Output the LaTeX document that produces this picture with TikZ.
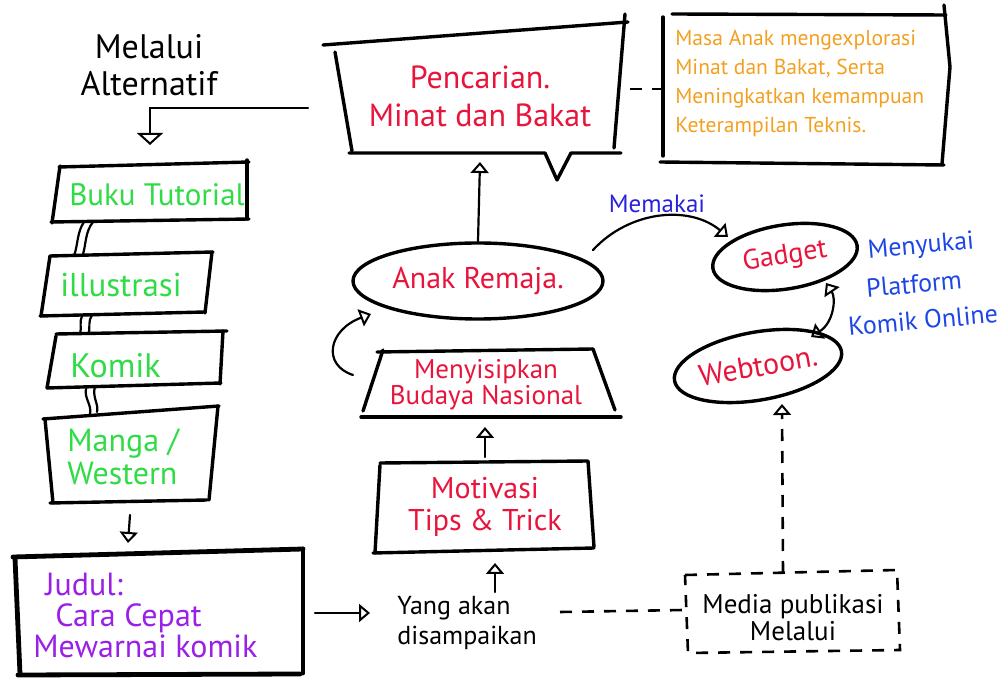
\documentclass[tikz,border=0pt]{standalone}
\usepackage{fontspec}
\setmainfont{PT Sans}
\usetikzlibrary{arrows.meta,shapes.geometric}
\definecolor{hgreen}{HTML}{30DC46}
\definecolor{hred}{HTML}{E8143C}
\definecolor{horange}{HTML}{F3A020}
\definecolor{hblue}{HTML}{2A22DA}
\definecolor{hblueb}{HTML}{1E46E6}
\definecolor{hpurple}{HTML}{9A20E8}
\newcommand{\fsz}[2]{\fontsize{#1}{#2}\selectfont}
\tikzset{
  boxpen/.style={line width=1.7pt, line cap=round, line join=round},
  heavypen/.style={line width=2.4pt, line cap=round, line join=round},
  linkpen/.style={line width=1.1pt, line cap=round},
  dashpen/.style={line width=1.3pt, dash pattern=on 6pt off 5pt},
  otip/.style={-{Triangle[open,length=5.5pt,width=9pt,line width=1pt]}},
  bigtip/.style={-{Triangle[open,length=6pt,width=13pt,line width=1pt]}},
  txt/.style={inner sep=0pt},
  oval/.style={ellipse, draw, boxpen, inner sep=0pt, text=hred},
  bluenote/.style={inner sep=0pt, text=hblueb, rotate=5, font=\fsz{13}{15}},
}
\begin{document}
\begin{tikzpicture}[x=0.5pt,y=-0.5pt]
\useasboundingbox (0,0) rectangle (1002,678);

% ---------- texts ----------
\node[txt, align=center, font=\fsz{17}{18.5}] (melalui) at (149,65) {Melalui\\Alternatif};

\node[txt, text=hgreen, font=\fsz{15.5}{18}] (buku) at (157,195) {Buku Tutorial};
\node[txt, text=hgreen, font=\fsz{16.5}{18}, anchor=west] (illus) at (60,285) {illustrasi};
\node[txt, text=hgreen, font=\fsz{17}{18}, anchor=west] (komik) at (70,366) {Komik};
\node[txt, text=hgreen, font=\fsz{16}{16.5}, anchor=west, align=left] (manga) at (67,457) {Manga /\\Western};

\node[txt, text=hpurple, font=\fsz{16}{15.5}, anchor=west, align=left] (judul) at (33,615)
  {\hspace*{6pt}Judul:\\\hspace*{11pt}Cara Cepat\\Mewarnai komik};

\node[txt, align=left, anchor=west, font=\fsz{13}{15}] (yang) at (397,623) {Yang akan\\disampaikan};
\node[txt, align=center, font=\fsz{13.5}{13.5}] (media) at (793,618) {Media publikasi\\Melalui};

\node[txt, align=center, text=hred, font=\fsz{15}{16}] (motiv) at (485,507) {Motivasi\\Tips \& Trick};
\node[txt, align=center, text=hred, font=\fsz{13.5}{13}] (menyis) at (486,385) {Menyisipkan\\Budaya Nasional};
\node[txt, align=center, text=hred, font=\fsz{16}{19}] (pencarian) at (480,96) {Pencarian.\\Minat dan Bakat};
\node[txt, align=left, anchor=west, text=horange, font=\fsz{10.8}{14.5}] (masa) at (675,83)
  {Masa Anak mengexplorasi\\Minat dan Bakat, Serta\\Meningkatkan kemampuan\\Keterampilan Teknis.};

\node[oval, minimum width=125pt, minimum height=38pt, font=\fsz{15}{16}] (anak) at (478,281) {Anak Remaja.};
\node[oval, minimum width=73pt, minimum height=32pt, rotate=9, font=\fsz{14}{16}] (gadget) at (785,257) {Gadget};
\node[oval, minimum width=82pt, minimum height=34pt, rotate=10, font=\fsz{15}{16}] (webtoon) at (758,366) {Webtoon.};

\node[txt, text=hblue, font=\fsz{12.5}{14}] (memakai) at (657,204) {Memakai};
\node[bluenote] (menyukai) at (921,247) {Menyukai};
\node[bluenote] (platform) at (914,284) {Platform};
\node[bluenote] (komikonline) at (923,320) {Komik Online};

% ---------- box outlines ----------
% Pencarian speech box
\draw[boxpen] (323,45) -- (628,22);
\draw[boxpen] (335,52) -- (352,151);
\draw[boxpen] (625,14) -- (614,148);
\draw[boxpen] (349,153) -- (545,153) -- (557,180) -- (571,153) -- (621,153);
% orange note box
\draw[boxpen] (672,14) -- (946,15);
\draw[boxpen] (663,17) -- (663,156);
\draw[boxpen] (944,5) -- (950,67) -- (942,164);
\draw[boxpen] (660,162) -- (944,165);
% Menyisipkan trapezoid
\draw[boxpen] (377,352) -- (593,349);
\draw[boxpen] (383,350) -- (363,411);
\draw[boxpen] (593,349) -- (615,410);
\draw[boxpen] (361,417) -- (621,417);
% Motivasi box
\draw[boxpen] (380,463) -- (588,461) -- (594,547);
\draw[boxpen] (380,465) -- (375,553);
\draw[boxpen] (373,553) -- (594,548);
% Media dashed box
\draw[dashpen] (685,575) -- (897,570) -- (900,650) -- (688,653) -- cycle;
% Judul box
\draw[heavypen] (13,557) -- (303,549);
\draw[heavypen] (15,558) -- (20,674);
\draw[heavypen] (303,549) -- (303,673);
\draw[heavypen] (18,675) -- (300,674);
% left stack
\draw[boxpen] (59,167) -- (249,162);
\draw[boxpen] (247,160) -- (247,219);
\draw[boxpen] (51,222) -- (249,219);
\draw[boxpen] (60,166) -- (52,223);

\draw[boxpen] (50,256) -- (213,252);
\draw[boxpen] (212,252) -- (205,313);
\draw[boxpen] (40,316) -- (205,312);
\draw[boxpen] (50,256) -- (41,316);

\draw[boxpen] (56,334) -- (227,331);
\draw[boxpen] (223,331) -- (220,384);
\draw[boxpen] (47,388) -- (221,383);
\draw[boxpen] (56,336) -- (47,388);

\draw[boxpen] (43,419) -- (219,406);
\draw[boxpen] (218,406) -- (209,500);
\draw[boxpen] (50,503) -- (207,500);
\draw[boxpen] (45,419) -- (53,503);

% ---------- connector end points ----------
\coordinate (altS) at (308,108);
\coordinate (bukuT) at (150,145);
\coordinate (bukuB1) at (84,222);
\coordinate (bukuB2) at (93,222);
\coordinate (illusT1) at (74,256);
\coordinate (illusT2) at (83,254);
\coordinate (illusB1) at (82,316);
\coordinate (illusB2) at (92,315);
\coordinate (komikT1) at (80,334);
\coordinate (komikT2) at (89,333);
\coordinate (komikB1) at (86,389);
\coordinate (komikB2) at (95,386);
\coordinate (mangaT1) at (90,414);
\coordinate (mangaT2) at (97,412);
\coordinate (mangaB) at (130,515);
\coordinate (judulT) at (128,543);
\coordinate (judulR) at (315,613);
\coordinate (yangL) at (370,613);
\coordinate (yangT) at (495,592);
\coordinate (motivB) at (495,563);
\coordinate (motivT) at (485,457);
\coordinate (menyisB) at (485,427);
\coordinate (menyisL) at (353,375);
\coordinate (anakIn) at (371,314);
\coordinate (pencB) at (480,162);
\coordinate (pencR) at (630,89);
\coordinate (masaL) at (662,89);
\coordinate (anakR) at (593,250);
\coordinate (gadgetIn) at (728,237);
\coordinate (gadgetB) at (826,283);
\coordinate (webtoonT) at (811,337);
\coordinate (yangR) at (560,612);
\coordinate (mediaL) at (684,610);
\coordinate (mediaT) at (783,573);
\coordinate (webtoonB) at (782,404);

% ---------- connectors ----------
\draw[linkpen, bigtip] (altS) -| (bukuT);
\draw[linkpen] (bukuB1) .. controls (77,232) and (78,245) .. (illusT1);
\draw[linkpen] (bukuB2) .. controls (85,232) and (86,245) .. (illusT2);
\draw[linkpen] (illusB1) .. controls (79,322) and (82,328) .. (komikT1);
\draw[linkpen] (illusB2) .. controls (88,321) and (90,327) .. (komikT2);
\draw[linkpen] (komikB1) .. controls (84,398) and (92,405) .. (mangaT1);
\draw[linkpen] (komikB2) .. controls (92,398) and (99,404) .. (mangaT2);
\draw[linkpen, otip] (mangaB) -- (judulT);
\draw[linkpen, otip] (judulR) -- (yangL);
\draw[linkpen, otip] (yangT) -- (motivB);
\draw[linkpen, otip] (motivT) -- (menyisB);
\draw[linkpen, otip] (menyisL) .. controls (322,365) and (328,330) .. (anakIn);
\draw[linkpen, otip] (anak.north) -- (pencB);
\draw[dashpen] (pencR) -- (masaL);
\draw[linkpen, otip] (anakR) .. controls (630,210) and (690,205) .. (gadgetIn);
\draw[linkpen, {Triangle[open,length=5.5pt,width=9pt,line width=1pt]}-{Triangle[open,length=5.5pt,width=9pt,line width=1pt]}]
  (gadgetB) .. controls (836,298) and (834,322) .. (webtoonT);
\draw[dashpen] (yangR) -- (mediaL);
\draw[dashpen, otip] (mediaT) -- (webtoonB);
\end{tikzpicture}
\end{document}
